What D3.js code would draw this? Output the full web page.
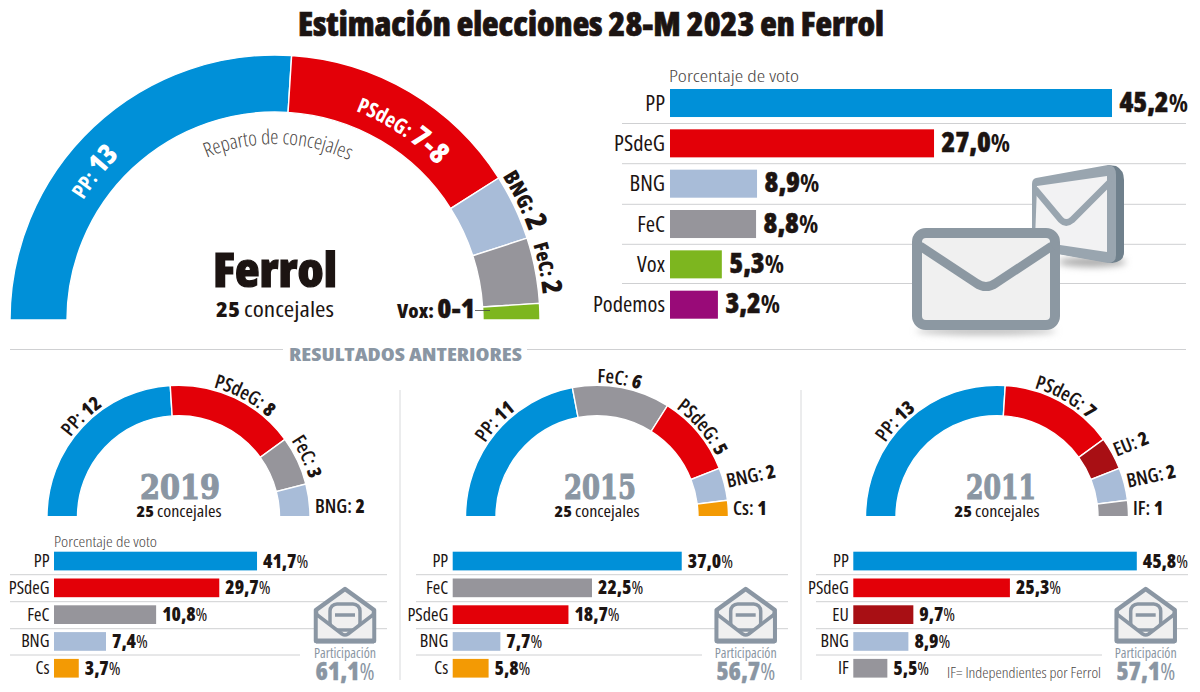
<!DOCTYPE html>
<html lang="es">
<head>
<meta charset="utf-8">
<script src="https://cdn.jsdelivr.net/npm/d3@7/dist/d3.min.js"></script>
<style>
html,body{margin:0;padding:0;background:#fff}
svg{display:block}
text{font-family:"Open Sans","Noto Sans",sans-serif;font-stretch:75%}
</style>
</head>
<body>
<svg id="chart" width="1200" height="692"></svg>
<script>
// ---------- data ----------
const mainParties = ["PP","PSdeG","BNG","FeC","Vox"];
const mainSeats = [13,7.5,2,2,0.5];            // ranges 7-8 and 0-1 drawn at their midpoint
const mainSeatLabels = ["13","7-8","2","2","0-1"];
const voteParties = ["PP","PSdeG","BNG","FeC","Vox","Podemos"];
const voteValues = [45.2,27.0,8.9,8.8,5.3,3.2];
const voteBars = [45.2,27.0,8.9,8.8,5.3,4.9];  // the reference draws Podemos longer than its label

const parties2019 = ["PP","PSdeG","FeC","BNG"];
const seats2019 = [12,8,3,2];
const voteParties2019 = ["PP","PSdeG","FeC","BNG","Cs"];
const votes2019 = [41.7,29.7,10.8,7.4,3.7];
const bars2019 = [32.8,26.7,16.5,8.4,4.0];     // lengths as drawn in the reference, not to scale with labels
const turnout2019 = 61.1;

const parties2015 = ["PP","FeC","PSdeG","BNG","Cs"];
const seats2015 = [11,6,5,2,1];
const voteParties2015 = ["PP","FeC","PSdeG","BNG","Cs"];
const votes2015 = [37.0,22.5,18.7,7.7,5.8];
const turnout2015 = 56.7;

const parties2011 = ["PP","PSdeG","EU","BNG","IF"];
const seats2011 = [13,7,2,2,1];
const voteParties2011 = ["PP","PSdeG","EU","BNG","IF"];
const votes2011 = [45.8,25.3,9.7,8.9,5.5];
const turnout2011 = 57.1;

// ---------- styles ----------
const colors = {PP:"#0090d8",PSdeG:"#e30008",BNG:"#a8bcd8",FeC:"#96959b",Vox:"#7db61f",
  Podemos:"#990a78",Cs:"#f39a04",EU:"#a80f14",IF:"#96959b"};
const INK="#1c1412", GREY="#8a96a3", RULE="#cfd0d2", SOFT="#4a4644", ENV="#8c98a2";

const svg = d3.select("#chart");
const defs = svg.append("defs");
const blur = defs.append("filter").attr("id","soft").attr("x","-30%").attr("y","-100%").attr("width","160%").attr("height","300%");
blur.append("feGaussianBlur").attr("stdDeviation",3.5);

const fmt = v => v.toFixed(1).replace(".",",");
const rad = d => d*Math.PI/180;
const pie = d3.pie().sort(null).startAngle(-Math.PI/2).endAngle(Math.PI/2);

function addParts(node,parts){
  parts.forEach(p=>{
    const s=node.append("tspan").text(p.t).attr("font-size",p.s).attr("font-weight",p.w||400).attr("fill",p.c||INK);
    if(p.sw) s.attr("stroke",p.c||INK).attr("stroke-width",p.sw);
  });
}
function straight(g,x,y,parts,o={}){
  const t=g.append("text").attr("x",x).attr("y",y).attr("text-anchor",o.anchor||"start");
  if(o.rot!==undefined) t.attr("transform",`rotate(${o.rot} ${x} ${y})`);
  if(o.len) t.attr("textLength",o.len).attr("lengthAdjust","spacingAndGlyphs");
  addParts(t,parts);
  return t;
}
let pathId=0;
function curved(g,cx,cy,r,deg,parts,span=70){
  const id="cp"+(pathId++), p=d3.path();
  p.arc(cx,cy,r,rad(deg-span-90),rad(deg+span-90),false);
  defs.append("path").attr("id",id).attr("d",p.toString());
  const t=g.append("text").attr("text-anchor","middle");
  addParts(t.append("textPath").attr("href","#"+id).attr("startOffset","50%"),parts);
}
function gauge(g,cx,cy,rOuter,rInner,names,seats){
  const arc=d3.arc().innerRadius(rInner).outerRadius(rOuter);
  g.append("g").attr("transform",`translate(${cx},${cy})`)
    .selectAll("path").data(pie(seats)).join("path")
    .attr("d",arc).attr("fill",(d,i)=>colors[names[i]])
    .attr("stroke","#fff").attr("stroke-width",1.4);
}

// ---------- title ----------
straight(svg,591,36,[{t:"Estimación elecciones 28-M 2023 en Ferrol",s:33,w:800,sw:.7}],{anchor:"middle",len:586});

// ---------- main gauge ----------
const main=svg.append("g");
gauge(main,275,320,265,208,mainParties,mainSeats);
curved(main,275,320,226,-50.7,[{t:"PP: ",s:21,w:700,c:"#fff"},{t:mainSeatLabels[0],s:28,w:800,c:"#fff"}]);
curved(main,275,320,224,33.8,[{t:"PSdeG: ",s:21,w:700,c:"#fff"},{t:mainSeatLabels[1],s:29,w:800,c:"#fff"}]);
curved(main,275,320,176,1,[{t:"Reparto de concejales",s:20.5,w:300,c:SOFT}]);
curved(main,275,320,269,64.3,[{t:"BNG: ",s:21,w:800},{t:mainSeatLabels[2],s:29,w:800}]);
curved(main,275,320,269,79.2,[{t:"FeC: ",s:20,w:800},{t:mainSeatLabels[3],s:28,w:800}]);
straight(main,397,318,[{t:"Vox: ",s:19,w:800},{t:mainSeatLabels[4],s:27,w:800,sw:.4}],{len:78});
main.append("line").attr("x1",475).attr("x2",490).attr("y1",310.5).attr("y2",310.5).attr("stroke","#444").attr("stroke-width",.8);
straight(main,275,287,[{t:"Ferrol",s:48,w:800,sw:1.2}],{anchor:"middle",len:124});
straight(main,275,317,[{t:"25 ",s:21,w:800},{t:"concejales",s:22,w:400}],{anchor:"middle",len:118});

// ---------- main vote bars ----------
const bigX=d3.scaleLinear().domain([0,45.2]).range([670,1112]);
const bigY=d3.scaleBand().domain(voteParties).range([89,318.7]).paddingInner(12.3/40.3).paddingOuter(0).align(0);
const bigRules=[123.5,163.7,204.3,244.3,283.5];
const bars=svg.append("g");
bars.selectAll("line").data(bigRules).join("line")
  .attr("x1",622).attr("x2",1186).attr("y1",d=>d).attr("y2",d=>d).attr("stroke",RULE).attr("stroke-width",1);
straight(bars,669,82,[{t:"Porcentaje de voto",s:17,w:300,c:SOFT}],{len:130});

// envelopes (drawn above the rules, below the labels)
(function(){
  const e=svg.append("g");
  e.append("ellipse").attr("cx",1092).attr("cy",262).attr("rx",34).attr("ry",5).attr("fill","#aaa").attr("filter","url(#soft)");
  e.append("path").attr("d","M1108 165 L1116 166 Q1124 170 1124 180 L1124 252 Q1124 262 1112 263 L1060 254 L1060 220 Z").attr("fill","#6f808c");
  e.append("path").attr("d","M1036 178 L1108 165 Q1116 165 1116 175 L1116 255 Q1116 263 1108 263 L1058 254 L1032 240 L1032 184 Q1032 179 1036 178 Z").attr("fill","#99a5af");
  e.append("path").attr("d","M1037 186 L1107 176 L1107 252 L1060 245 L1035 240 Z").attr("fill","#f2f2f3");
  e.append("path").attr("d","M1035 189 L1061 220 Q1066 225 1072 220 L1111 181").attr("fill","none").attr("stroke","#99a5af").attr("stroke-width",6.5);
  e.append("ellipse").attr("cx",986).attr("cy",331).attr("rx",70).attr("ry",4).attr("fill","#bbb").attr("filter","url(#soft)");
  e.append("rect").attr("x",917).attr("y",233).attr("width",138).attr("height",92).attr("rx",9)
    .attr("fill","#f0f0f0").attr("stroke",ENV).attr("stroke-width",10);
  e.append("path").attr("d","M920 246 L976 283 Q986 290 996 283 L1052 246").attr("fill","none").attr("stroke",ENV).attr("stroke-width",9);
})();

const barsTop=svg.append("g");
barsTop.selectAll("rect").data(voteParties).join("rect")
  .attr("x",bigX(0)).attr("y",d=>bigY(d)).attr("height",bigY.bandwidth())
  .attr("width",(d,i)=>bigX(voteBars[i])-bigX(0)).attr("fill",d=>colors[d]);
voteParties.forEach((p,i)=>{
  const y=bigY(p)+bigY.bandwidth()/2;
  straight(barsTop,665,y+7.5,[{t:p,s:22.5,w:400}],{anchor:"end"});
  straight(barsTop,bigX(voteBars[i])+7.5,y+8.5,[{t:fmt(voteValues[i]),s:28,w:800,sw:.5},{t:"%",s:25,w:700}]);
});

// ---------- "resultados anteriores" ----------
svg.append("line").attr("x1",10).attr("x2",283).attr("y1",349.5).attr("y2",349.5).attr("stroke",RULE);
svg.append("line").attr("x1",527).attr("x2",1186).attr("y1",349.5).attr("y2",349.5).attr("stroke",RULE);
straight(svg,289,361,[{t:"RESULTADOS ANTERIORES",s:18,w:800,c:GREY}],{len:233});
[400,801].forEach(x=>svg.append("line").attr("x1",x).attr("x2",x).attr("y1",390).attr("y2",680).attr("stroke","#d8d9db"));

// ---------- historical panels ----------
const smallX=d3.scaleLinear().domain([0,45.8]).range([0,283.5]);
const panels=[
 {year:"2019",cx:178.5,yearX:180,yearLen:80,concX:179,names:parties2019,seats:seats2019,vp:voteParties2019,votes:votes2019,bars:bars2019,turnout:turnout2019,
  x0:54,ruleL:10,ruleR:387,ruleShort:300,iconX:345,caption:true,
  place:[{a:-44,r:134},{a:28.7,r:134},{a:65,r:136},{x:315,y:513}]},
 {year:"2015",cx:597,yearX:600,yearLen:72,concX:597,names:parties2015,seats:seats2015,vp:voteParties2015,votes:votes2015,bars:votes2015,turnout:turnout2015,
  x0:452.7,ruleL:416,ruleR:788,ruleShort:702,iconX:745.7,
  place:[{a:-47,r:134},{a:9.3,r:134},{a:49.7,r:134},{x:728,y:487.7,rot:-12},{x:733,y:515}]},
 {year:"2011",cx:997,yearX:1001,yearLen:70,concX:997,names:parties2011,seats:seats2011,vp:voteParties2011,votes:votes2011,bars:votes2011,turnout:turnout2011,
  x0:853.3,ruleL:816,ruleR:1188,ruleShort:1102,iconX:1145.7,note:"IF= Independientes por Ferrol",
  place:[{a:-46.8,r:134},{a:29.8,r:134},{x:1116.7,y:456.7,rot:-22},{x:1128.3,y:487.7,rot:-12},{x:1133,y:515}]}
];
const smallY=d3.scaleBand().domain(d3.range(5)).range([551.7,677.6]).paddingInner(8.1/26.8).paddingOuter(0).align(0);
const smallRules=[574.7,601.7,628.7,655];

panels.forEach(P=>{
  const g=svg.append("g");
  gauge(g,P.cx,516.7,131.5,101,P.names,P.seats);
  P.names.forEach((n,i)=>{
    const pl=P.place[i], parts=[{t:n+": ",s:19.5,w:600},{t:String(P.seats[i]),s:19,w:800}];
    if(pl.a!==undefined) curved(g,P.cx,516.7,pl.r,pl.a,parts);
    else straight(g,pl.x,pl.y,parts,{rot:pl.rot});
  });
  straight(g,P.yearX,499,[{t:P.year,s:34,w:700,c:GREY,sw:1.2}],{anchor:"middle",len:P.yearLen})
    .style("font-family","'DejaVu Serif'").style("font-stretch","100%");
  straight(g,P.concX,516.7,[{t:"25 ",s:16.5,w:800},{t:"concejales",s:17,w:400}],{anchor:"middle",len:85});
  if(P.caption) straight(g,P.x0,547,[{t:"Porcentaje de voto",s:15,w:300,c:SOFT}],{len:103});

  smallRules.forEach((y,i)=>g.append("line").attr("x1",P.ruleL).attr("x2",i===3?P.ruleShort:P.ruleR)
     .attr("y1",y).attr("y2",y).attr("stroke",RULE));

  g.append("g").selectAll("rect").data(P.vp).join("rect")
    .attr("x",P.x0).attr("y",(d,i)=>smallY(i)).attr("height",smallY.bandwidth())
    .attr("width",(d,i)=>smallX(P.bars[i])).attr("fill",d=>colors[d]);
  P.vp.forEach((n,i)=>{
    const y=smallY(i)+smallY.bandwidth()/2;
    straight(g,P.x0-4.5,y+6,[{t:n,s:18,w:400}],{anchor:"end"});
    straight(g,P.x0+smallX(P.bars[i])+6,y+6.5,[{t:fmt(P.votes[i]),s:19,w:800},{t:"%",s:18,w:400}]);
  });

  // open-envelope icon
  const ic=g.append("g").attr("transform",`translate(${P.iconX},587)`);
  ic.append("path").attr("d","M0 2 L29 23 L29 54 L-29 54 L-29 23 Z")
    .attr("fill","#f0f0f0").attr("stroke",GREY).attr("stroke-width",4.5).attr("stroke-linejoin","round");
  ic.append("rect").attr("x",-15).attr("y",17).attr("width",30).attr("height",26).attr("rx",7)
    .attr("fill","#f0f0f0").attr("stroke",GREY).attr("stroke-width",3.5);
  ic.append("line").attr("x1",-10).attr("x2",10).attr("y1",28).attr("y2",28).attr("stroke",GREY).attr("stroke-width",3.5);
  ic.append("path").attr("d","M-29 27 L-3 47 Q0 49 3 47 L29 27 L29 54 L-29 54 Z").attr("fill","#f0f0f0").attr("stroke",GREY).attr("stroke-width",3.5).attr("stroke-linejoin","round");
  ic.append("line").attr("x1",-29).attr("x2",29).attr("y1",54).attr("y2",54).attr("stroke",GREY).attr("stroke-width",5);

  straight(g,P.iconX,658,[{t:"Participación",s:14,w:400,c:GREY}],{anchor:"middle",len:62});
  straight(g,P.iconX,679.5,[{t:fmt(P.turnout),s:25,w:800,c:GREY,sw:.3},{t:"%",s:23,w:400,c:GREY}],{anchor:"middle"});
  if(P.note) straight(g,947,678,[{t:P.note,s:15,w:300,c:SOFT}],{len:154});
});
</script>
</body>
</html>
